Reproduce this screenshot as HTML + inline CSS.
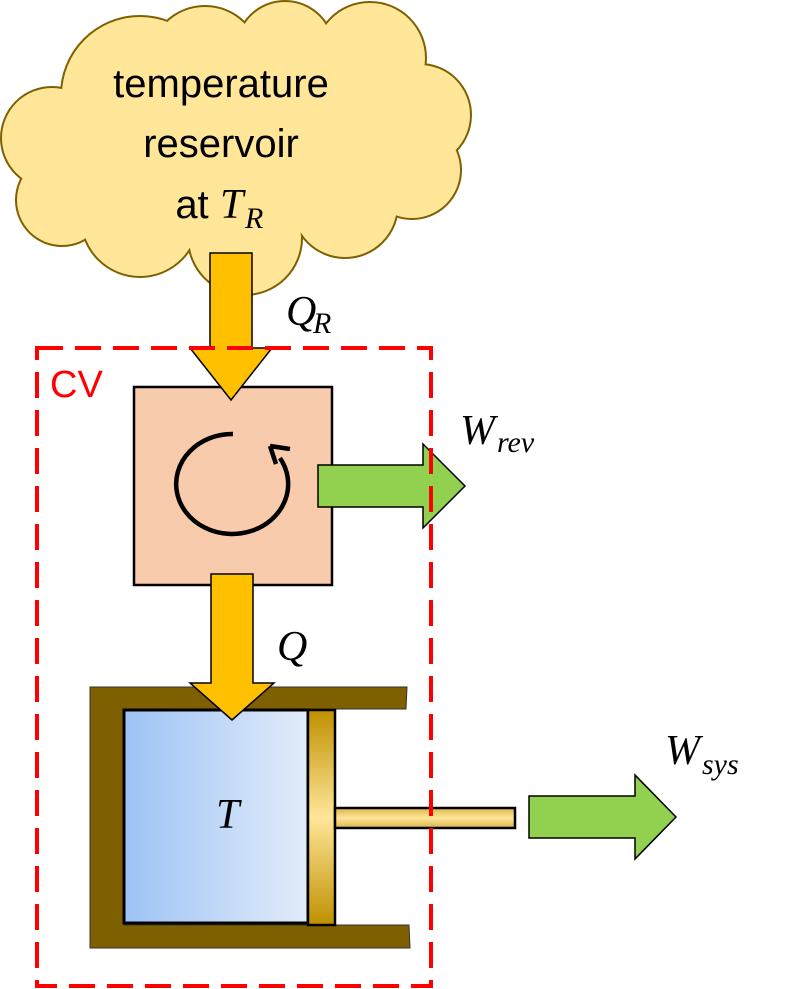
<!DOCTYPE html>
<html><head><meta charset="utf-8"><style>html,body{margin:0;padding:0;background:#fff}svg{display:block}</style></head>
<body>
<svg width="794" height="989" viewBox="0 0 794 989" xmlns="http://www.w3.org/2000/svg">
<defs>
<linearGradient id="blue" x1="0" x2="1" y1="0" y2="0"><stop offset="0" stop-color="#9dc3f5"/><stop offset="1" stop-color="#e2ecf9"/></linearGradient>
<linearGradient id="goldv" x1="0" x2="0" y1="0" y2="1"><stop offset="0" stop-color="#bf9000"/><stop offset="0.5" stop-color="#ffe699"/><stop offset="1" stop-color="#bf9000"/></linearGradient>
<linearGradient id="goldr" x1="0" x2="0" y1="0" y2="1"><stop offset="0" stop-color="#d9b44a"/><stop offset="0.5" stop-color="#ffe699"/><stop offset="1" stop-color="#d9b44a"/></linearGradient>
</defs>
<g stroke="#7f6000" stroke-width="4" fill="#7f6000">
<circle cx="140" cy="95" r="78"/><circle cx="205" cy="62" r="55"/><circle cx="285" cy="50" r="48"/><circle cx="370" cy="58" r="55"/><circle cx="420" cy="115" r="50"/><circle cx="412" cy="170" r="48"/><circle cx="345" cy="205" r="52"/><circle cx="245" cy="238" r="56"/><circle cx="140" cy="218" r="58"/><circle cx="62" cy="200" r="45"/><circle cx="52" cy="138" r="50"/><circle cx="240" cy="140" r="100"/><circle cx="320" cy="140" r="90"/><circle cx="110" cy="160" r="55"/>
</g>
<g fill="#ffe699">
<circle cx="140" cy="95" r="78"/><circle cx="205" cy="62" r="55"/><circle cx="285" cy="50" r="48"/><circle cx="370" cy="58" r="55"/><circle cx="420" cy="115" r="50"/><circle cx="412" cy="170" r="48"/><circle cx="345" cy="205" r="52"/><circle cx="245" cy="238" r="56"/><circle cx="140" cy="218" r="58"/><circle cx="62" cy="200" r="45"/><circle cx="52" cy="138" r="50"/><circle cx="240" cy="140" r="100"/><circle cx="320" cy="140" r="90"/><circle cx="110" cy="160" r="55"/>
</g>
<g font-family="Liberation Sans, sans-serif" font-size="40" text-anchor="middle" fill="#000">
<text x="221" y="97">temperature</text>
<text x="221" y="157">reservoir</text>
<text x="192" y="218">at</text>
</g>
<g font-family="Liberation Serif, serif" font-style="italic" fill="#000">
<text x="220" y="218" font-size="42">T</text><text x="245" y="228" font-size="30">R</text>
<text x="286" y="325" font-size="42">Q</text><text x="313" y="333" font-size="30">R</text>
<text x="460" y="444" font-size="42">W</text><text x="497" y="452" font-size="30">rev</text>
<text x="277" y="660" font-size="42">Q</text>
<text x="665" y="764" font-size="42">W</text><text x="702" y="774" font-size="30">sys</text>
</g>
<rect x="134" y="387" width="198" height="198" fill="#f8cbad" stroke="#000" stroke-width="2.5"/>
<path d="M233 434 A56 50 0 1 0 280 458" fill="none" stroke="#000" stroke-width="4.5"/>
<path d="M270 446 L290 449 M270 446 L276 464" fill="none" stroke="#000" stroke-width="4.5"/>
<polygon points="210,253 252,253 252,348 272,348 231,400 190,348 210,348" fill="#ffc000" stroke="#000" stroke-width="1.5"/>
<polygon points="318,465 423,465 423,444 465,486 423,528 423,507 318,507" fill="#92d050" stroke="#000" stroke-width="1.5"/>
<path d="M90 687 L407 687 L406 709 L124 709 L124 925 L409 925 L410 948 L90 948 Z" fill="#7f6000" stroke="#333" stroke-width="1"/>
<rect x="124" y="710" width="184" height="213" fill="url(#blue)" stroke="#000" stroke-width="3"/>
<rect x="308" y="710" width="27" height="215" fill="url(#goldv)" stroke="#000" stroke-width="2.5"/>
<rect x="335" y="808" width="180" height="20" fill="url(#goldr)" stroke="#000" stroke-width="2.5"/>
<text x="216" y="828" font-family="Liberation Serif, serif" font-style="italic" font-size="42">T</text>
<polygon points="211,574 253,574 253,683 274,683 232,720 190,683 211,683" fill="#ffc000" stroke="#000" stroke-width="1.5"/>
<polygon points="529,796 635,796 635,775 676,817 635,859 635,838 529,838" fill="#92d050" stroke="#000" stroke-width="1.5"/>
<rect x="37" y="348" width="394" height="638" fill="none" stroke="#ff0000" stroke-width="4" stroke-dasharray="26,12"/>
<text x="50" y="397" font-family="Liberation Sans, sans-serif" font-size="38" fill="#ff0000">CV</text>
</svg>
</body></html>
